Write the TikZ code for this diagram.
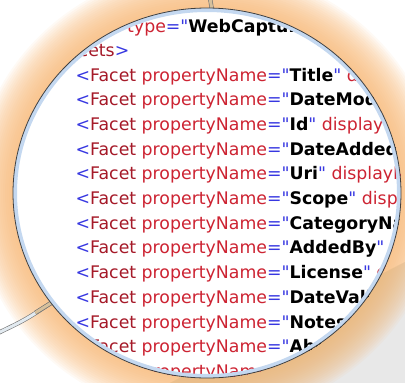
\documentclass[tikz,border=0pt]{standalone}
\usepackage{fontspec}
\setmainfont{DejaVu Sans}
\definecolor{xmlblue}{RGB}{55,55,225}
\definecolor{xmlname}{RGB}{165,25,40}
\definecolor{xmlattr}{RGB}{205,35,50}
\definecolor{glow}{RGB}{247,182,115}
\definecolor{rim}{RGB}{196,216,240}
\definecolor{corner}{RGB}{232,232,232}
\definecolor{brass}{RGB}{214,192,156}
\definecolor{stem}{RGB}{226,234,240}

\newcommand{\qd}{\textcolor{xmlblue}{\textquotedbl}}
\newcommand{\facetln}[1]{\textcolor{xmlblue}{<}\textcolor{xmlname}{Facet} \textcolor{xmlattr}{propertyName}\textcolor{xmlblue}{=}\qd\textbf{#1}\qd{} \textcolor{xmlattr}{displayName}}

\begin{document}
\begin{tikzpicture}[x=1bp, y=-1bp,
  code/.style={anchor=base west, inner sep=0pt, font=\fontsize{17.4}{22}\selectfont},
  handle/.style={draw=black!55, line width=0.6bp, double distance=3bp}]
  \useasboundingbox (0,0) rectangle (405,383);
  \clip (0,0) rectangle (405,383);
  \coordinate (c) at (207,193);

  % shadow and glow behind the lens
  \fill[corner] (405,262) -- (405,383) -- (170,383) -- cycle;
  \foreach \d in {40,38,...,0}
    \fill[glow, fill opacity=0.075] (c) ellipse [x radius=194+\d, y radius=185+\d];

  % handle
  \coordinate (t1) at (210,-2);
  \coordinate (t2) at (212,10);
  \coordinate (s1) at (-2,333);
  \coordinate (s2) at (51,303);
  \coordinate (s3) at (35.3,312.8);
  \draw[handle, double=brass] (t1) -- (t2);
  \draw[handle, double=stem] (s1) .. controls (25,320) .. (s2);
  \draw[handle, double=brass] (s3) -- (s2);

  % lens
  \fill[white] (c) ellipse [x radius=194, y radius=185];
  \begin{scope}
    \clip (c) ellipse [x radius=194, y radius=185];
    \node[code] (tp) at (127,32) {\textcolor{xmlattr}{type}\textcolor{xmlblue}{=}\qd\textbf{WebCapture}};
    \node[code] (fs) at (45,56.5) {\textcolor{xmlblue}{<}\textcolor{xmlname}{Facets}\textcolor{xmlblue}{>}};
    \node[code] (f1) at (75.5,81) {\facetln{Title}};
    \node[code] (f2) at (75.5,105.7) {\facetln{DateModified}};
    \node[code] (f3) at (75.5,130.4) {\facetln{Id}};
    \node[code] (f4) at (75.5,155.1) {\facetln{DateAdded}};
    \node[code] (f5) at (75.5,179.8) {\facetln{Uri}};
    \node[code] (f6) at (75.5,204.5) {\facetln{Scope}};
    \node[code] (f7) at (75.5,229.2) {\facetln{CategoryName}};
    \node[code] (f8) at (75.5,253.9) {\facetln{AddedBy}};
    \node[code] (f9) at (75.5,278.6) {\facetln{License}};
    \node[code] (f10) at (75.5,303.3) {\facetln{DateValidated}};
    \node[code] (f11) at (75.5,328) {\facetln{Notes}};
    \node[code] (f12) at (75.5,352.7) {\facetln{Abstract}};
    \node[code] (f13) at (75.5,377.4) {\textcolor{xmlblue}{<}\textcolor{xmlname}{Facet} \textcolor{xmlattr}{propertyName}};
    \draw[rim, line width=8bp] (c) ellipse [x radius=194, y radius=185];
  \end{scope}
  \draw[black!75, line width=0.8bp] (c) ellipse [x radius=194, y radius=185];
\end{tikzpicture}
\end{document}
